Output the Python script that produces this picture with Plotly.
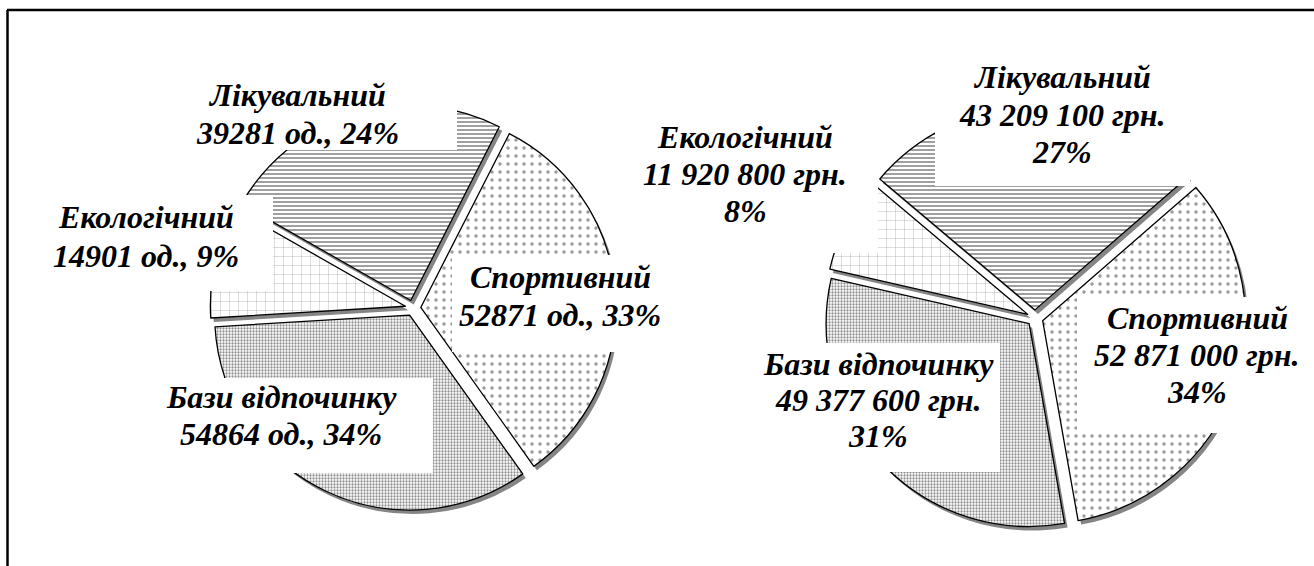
import plotly.graph_objects as go

W, H = 1314, 566

# ---- data ----
categories = ["Спортивний", "Бази відпочинку", "Екологічний", "Лікувальний"]
units_values = [52871, 54864, 14901, 39281]               # од.
money_values = [52871000, 49377600, 11920800, 43209100]   # грн.


def pct(vals):
    s = sum(vals)
    return [round(v * 100 / s) for v in vals]


units_pct = pct(units_values)
money_pct = pct(money_values)

units_lines = [[c, f"{v} од., {p}%"] for c, v, p in zip(categories, units_values, units_pct)]
money_lines = [[c, f"{v:,} грн.".replace(",", " "), f"{p}%"]
               for c, v, p in zip(categories, money_values, money_pct)]

# ---- styles ----
pat_shape = [".", ".", "+", "-"]
pat_size = [8, 3, 9, 4]
pat_solid = [0.14, 0.45, 0.08, 0.4]
pat_fg = ["#333333", "#222222", "#444444", "#111111"]
PULL = 0.04


def px_x(x):
    return x / W


def px_y(y):
    return 1 - y / H


def domain(cx, cy, r, dx=0, dy=0):
    half = r * (1 + PULL)
    return dict(x=[px_x(cx - half + dx), px_x(cx + half + dx)],
                y=[px_y(cy + half + dy), px_y(cy - half + dy)])


fig = go.Figure()

pies = [
    dict(values=units_values, cx=413, cy=308, r=195, rot=27),
    dict(values=money_values, cx=1035, cy=318, r=203, rot=49),
]

for p in pies:
    # shadow
    fig.add_trace(go.Pie(
        values=p["values"], labels=categories, sort=False, direction="clockwise",
        rotation=p["rot"], pull=[PULL] * 4, textinfo="none", hoverinfo="skip",
        marker=dict(colors=["#858585"] * 4, line=dict(width=0)),
        domain=domain(p["cx"], p["cy"], p["r"], 3, 4), showlegend=False,
    ))
    fig.add_trace(go.Pie(
        values=p["values"], labels=categories, sort=False, direction="clockwise",
        rotation=p["rot"], pull=[PULL] * 4, textinfo="none", hoverinfo="skip",
        marker=dict(colors=["white"] * 4, line=dict(color="black", width=1.3),
                    pattern=dict(shape=pat_shape, size=pat_size, solidity=pat_solid,
                                 fgcolor=pat_fg, fillmode="overlay")),
        domain=domain(p["cx"], p["cy"], p["r"]), showlegend=False,
    ))

# label boxes (pixel rects)
boxes = [
    (452, 255, 672, 352), (150, 378, 433, 473), (20, 195, 273, 291), (140, 65, 457, 150),
    (1077, 297, 1310, 433), (760, 343, 1000, 472), (630, 110, 878, 253), (935, 50, 1190, 186),
]
# label line positions: centre x and y of each line
label_pos = [
    (560, [277, 315]), (281, [397, 434]), (146, [217, 256]), (297, [95, 133]),
    (1197, [318, 355, 392]), (878, [364, 400, 436]), (745, [137, 174, 211]),
    (1062, [77, 115, 152]),
]
all_lines = units_lines + money_lines

shapes = []
for (x0, y0, x1, y1) in boxes:
    shapes.append(dict(type="rect", xref="paper", yref="paper", layer="above",
                       x0=px_x(x0), x1=px_x(x1), y0=px_y(y1), y1=px_y(y0),
                       fillcolor="white", line=dict(width=0)))
# outer frame
shapes.append(dict(type="line", xref="paper", yref="paper", layer="above",
                   x0=px_x(7), x1=px_x(1320), y0=px_y(10), y1=px_y(10),
                   line=dict(color="black", width=2.5)))
shapes.append(dict(type="line", xref="paper", yref="paper", layer="above",
                   x0=px_x(7.5), x1=px_x(7.5), y0=px_y(10), y1=px_y(570),
                   line=dict(color="black", width=2.5)))

annotations = []
for (cx, ys), lines in zip(label_pos, all_lines):
    for y, t in zip(ys, lines):
        annotations.append(dict(
            x=px_x(cx), y=px_y(y), xref="paper", yref="paper", text=t, showarrow=False,
            xanchor="center", yanchor="middle", align="center",
            font=dict(family="Liberation Serif", size=32, color="black",
                      weight="bold", style="italic"),
        ))

fig.update_layout(
    width=W, height=H, margin=dict(l=0, r=0, t=0, b=0),
    paper_bgcolor="white", plot_bgcolor="white",
    shapes=shapes, annotations=annotations, showlegend=False,
)

fig.write_html("out.html", config={"displayModeBar": False},
               post_script="document.body.style.margin='0px';")
